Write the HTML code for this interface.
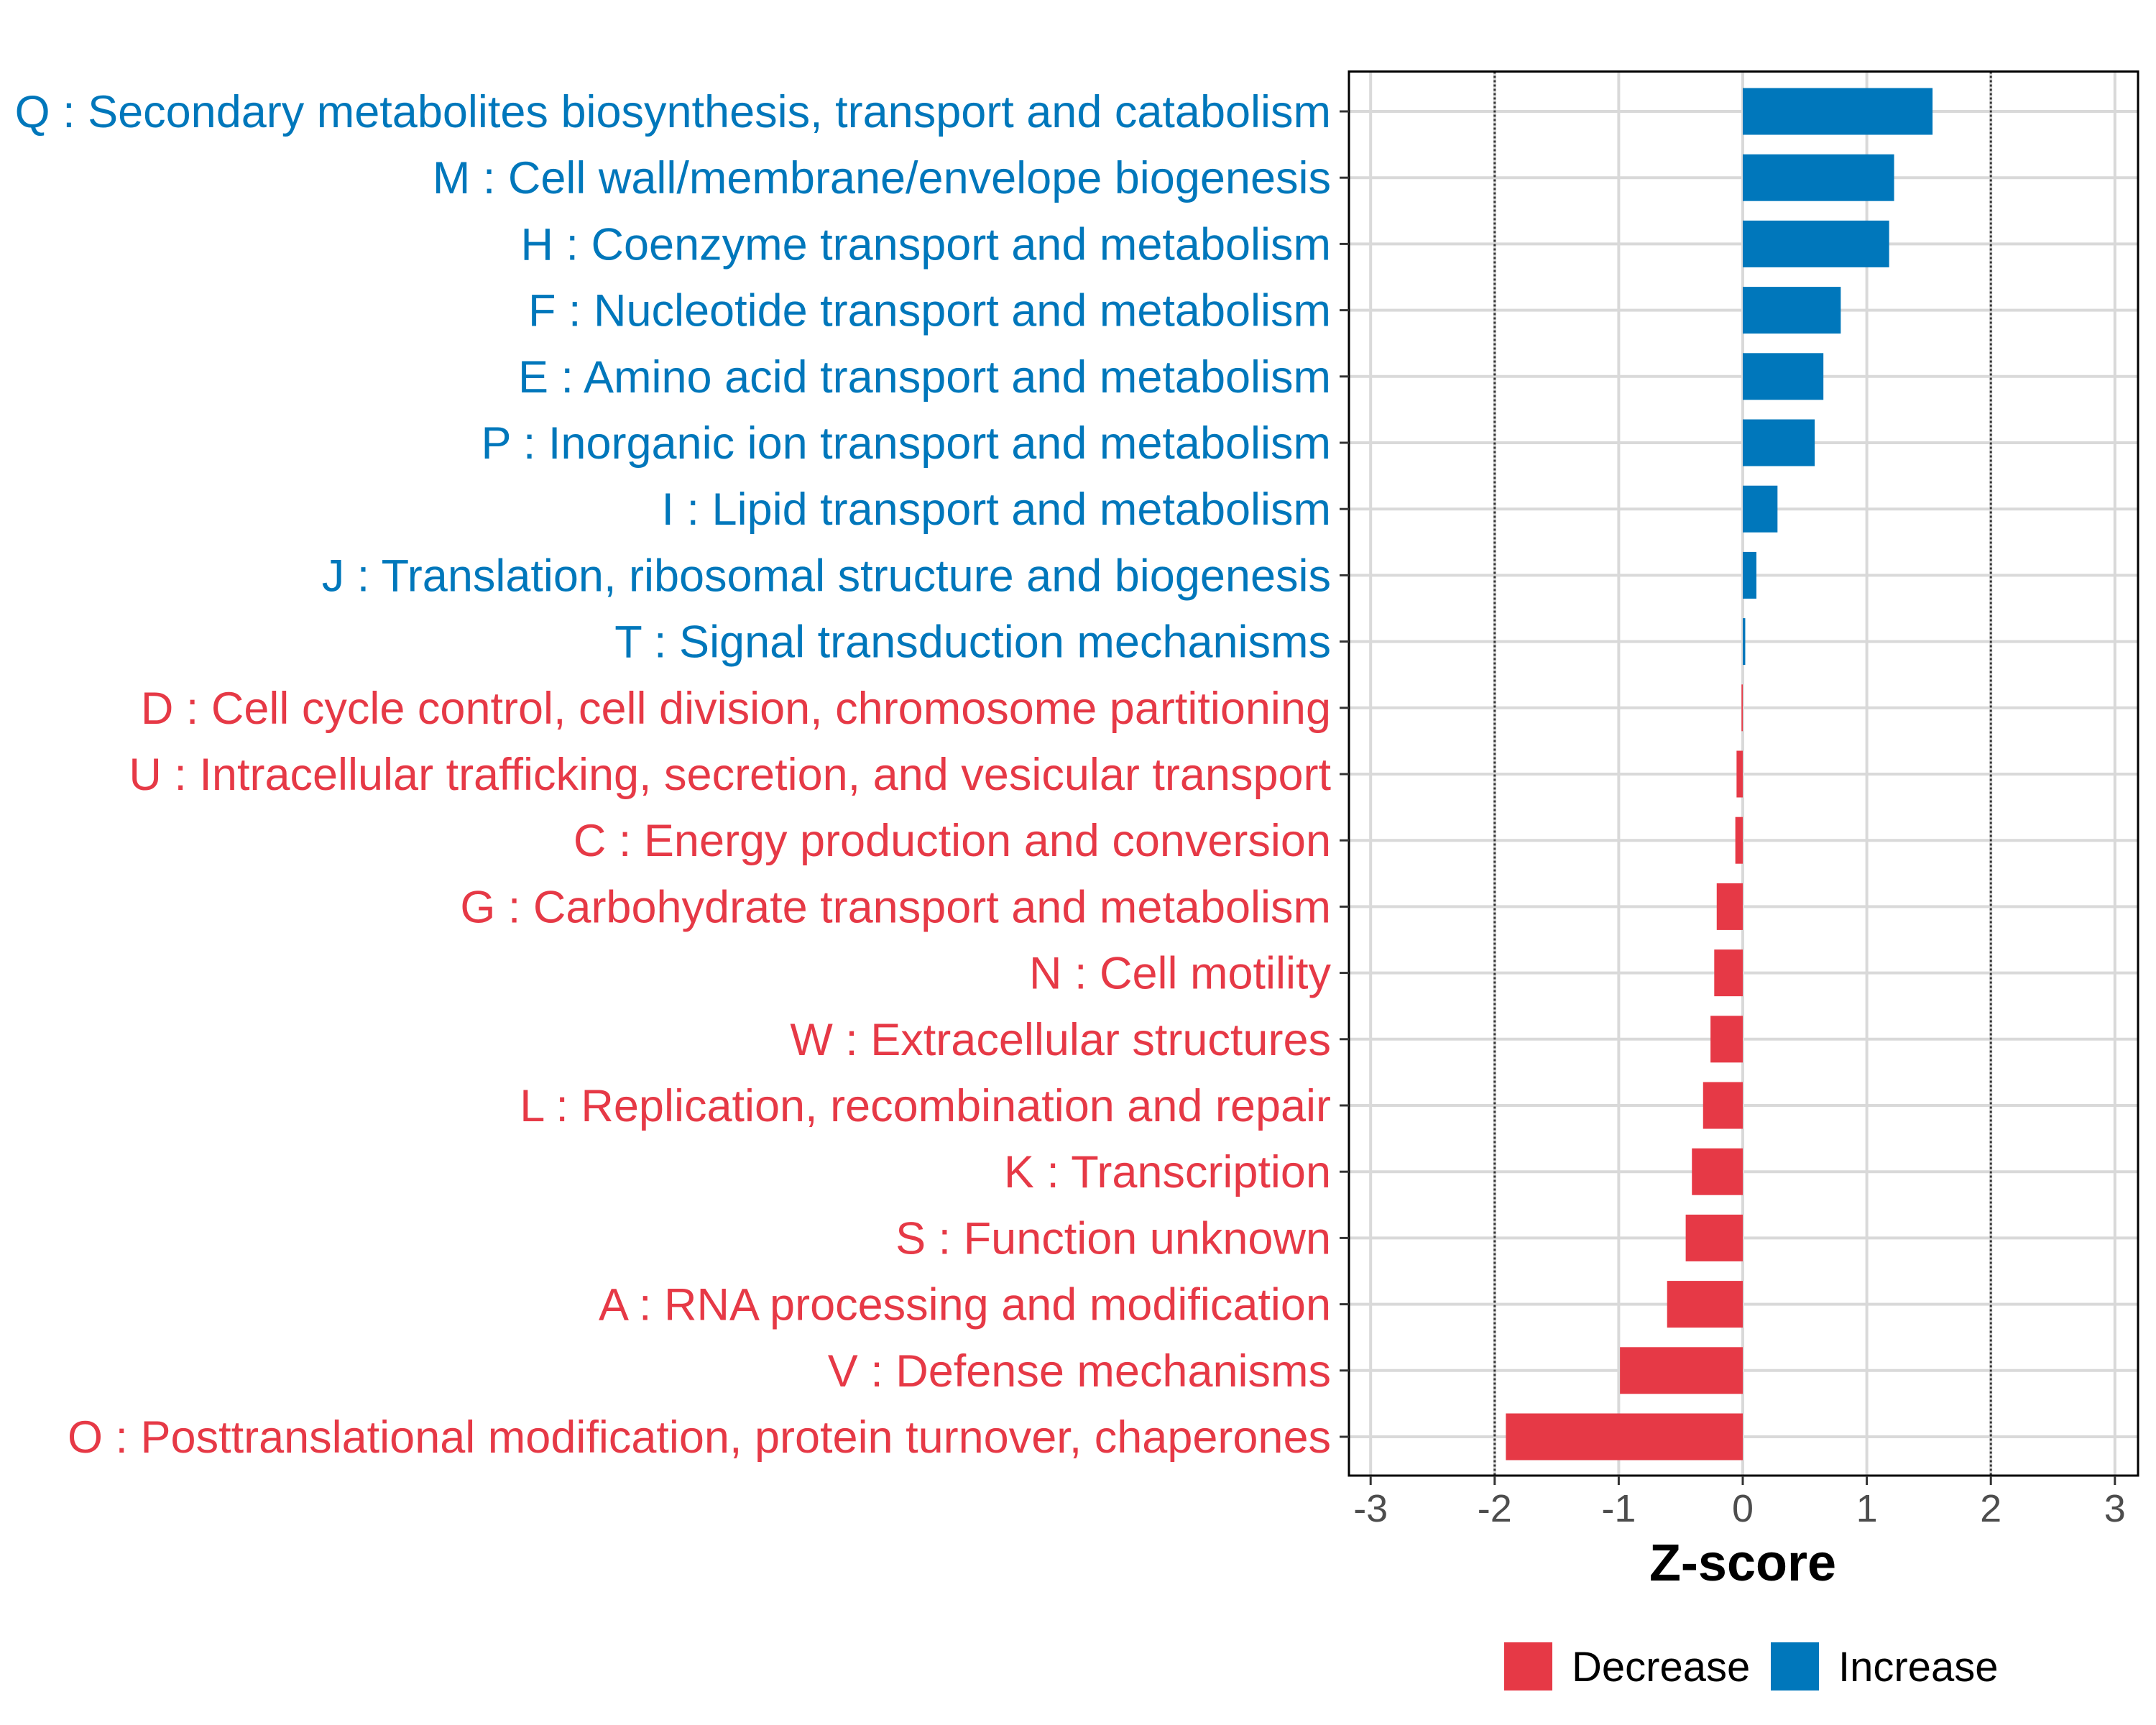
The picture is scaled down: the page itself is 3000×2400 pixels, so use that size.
<!DOCTYPE html>
<html><head><meta charset="utf-8"><style>html,body{margin:0;padding:0;background:#fff}svg{display:block}</style></head>
<body>
<svg id="chart" width="3000" height="2400" viewBox="0 0 3000 2400" xmlns="http://www.w3.org/2000/svg" font-family="Liberation Sans, sans-serif"></svg>
<script>
const categories = [
"Q : Secondary metabolites biosynthesis, transport and catabolism",
"M : Cell wall/membrane/envelope biogenesis",
"H : Coenzyme transport and metabolism",
"F : Nucleotide transport and metabolism",
"E : Amino acid transport and metabolism",
"P : Inorganic ion transport and metabolism",
"I : Lipid transport and metabolism",
"J : Translation, ribosomal structure and biogenesis",
"T : Signal transduction mechanisms",
"D : Cell cycle control, cell division, chromosome partitioning",
"U : Intracellular trafficking, secretion, and vesicular transport",
"C : Energy production and conversion",
"G : Carbohydrate transport and metabolism",
"N : Cell motility",
"W : Extracellular structures",
"L : Replication, recombination and repair",
"K : Transcription",
"S : Function unknown",
"A : RNA processing and modification",
"V : Defense mechanisms",
"O : Posttranslational modification, protein turnover, chaperones"];
const zscores = [1.53,1.22,1.18,0.79,0.65,0.58,0.28,0.11,0.02,-0.01,-0.05,-0.06,-0.21,-0.23,-0.26,-0.32,-0.41,-0.46,-0.61,-0.99,-1.91];
const xTicks = [-3,-2,-1,0,1,2,3];
const thresholds = [-2,2];

const NS="http://www.w3.org/2000/svg";
const svg=document.getElementById('chart');
const BLUE="#0077bb", RED="#e63946";
const pL=1877,pR=2975,pT=99.5,pB=2053;
const x=v=>2425+v*172.6;
const y=i=>155+i*92.2;
function mk(t,a,p){const e=document.createElementNS(NS,t);for(const k in a)e.setAttribute(k,a[k]);(p||svg).appendChild(e);return e;}

xTicks.forEach(t=>{
  const g=mk('line',{x1:x(t),x2:x(t),y1:pT,y2:pB,stroke:'#d9d9d9','stroke-width':4});
  
  
});
categories.forEach((c,i)=>{
  const g=mk('line',{x1:pL,x2:pR,y1:y(i),y2:y(i),stroke:'#d9d9d9','stroke-width':4});
  
  
});
thresholds.forEach(t=>{
  const l=mk('line',{x1:x(t),x2:x(t),y1:pT,y2:pB,stroke:'#333','stroke-width':3,'stroke-dasharray':'3,3'});
  
  
});
zscores.forEach((v,i)=>{
  const x0=Math.min(x(0),x(v)), w=Math.max(Math.abs(x(v)-x(0)),1.5);
  const r=mk('rect',{x:x0,y:y(i)-32.5,width:w,height:65,fill:v>=0?BLUE:RED});
  
  
});
const b=mk('rect',{x:pL,y:pT,width:pR-pL,height:pB-pT,fill:'none',stroke:'#000','stroke-width':3});


categories.forEach((c,i)=>{
  const tk=mk('line',{x1:pL-13,x2:pL,y1:y(i),y2:y(i),stroke:'#333','stroke-width':3});
  
  
  const t=mk('text',{x:1852,y:y(i)+22,'text-anchor':'end','font-size':63,fill:zscores[i]>=0?BLUE:RED});
  t.textContent=c;
  
  
});
xTicks.forEach(tv=>{
  const tk=mk('line',{x1:x(tv),x2:x(tv),y1:pB,y2:pB+13,stroke:'#333','stroke-width':3});
  
  
  const t=mk('text',{x:x(tv),y:pB+64,'text-anchor':'middle','font-size':54,fill:'#4d4d4d'});
  t.textContent=tv;
  
  
});
const xt=mk('text',{x:x(0),y:2199,'text-anchor':'middle','font-size':72,'font-weight':'bold',fill:'#000'});
xt.textContent='Z-score';


[[2093,RED,'Decrease'],[2464,BLUE,'Increase']].forEach(([lx,col,lab])=>{
  const r=mk('rect',{x:lx,y:2285,width:67,height:67,fill:col});
  
  
  const t=mk('text',{x:lx+94,y:2339,'font-size':58,fill:'#000'});
  t.textContent=lab;
  
  
});
</script>
</body></html>
